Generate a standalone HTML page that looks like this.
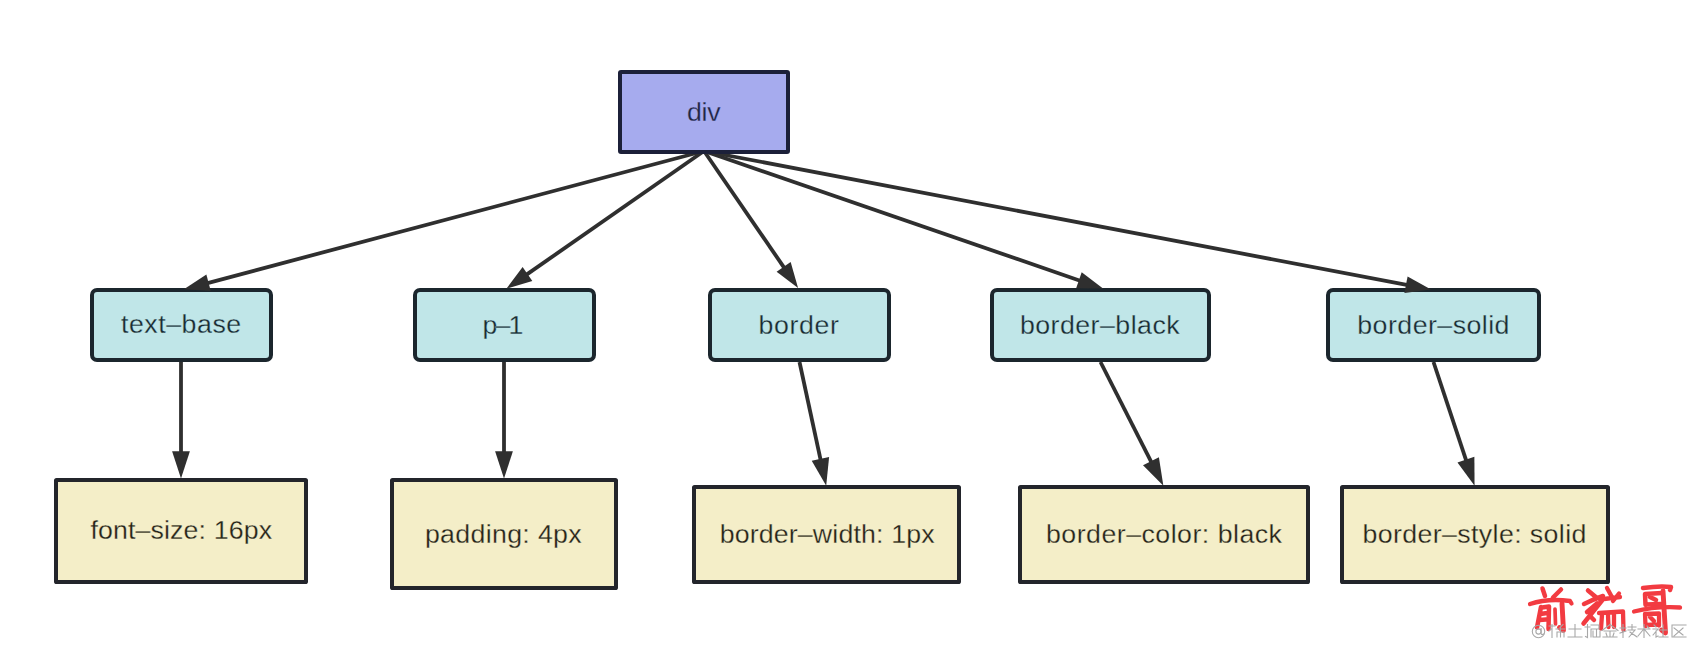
<!DOCTYPE html>
<html><head><meta charset="utf-8"><style>
html,body{margin:0;padding:0;background:#fff;width:1696px;height:648px;overflow:hidden}
svg{display:block}
text{font-family:"Liberation Sans",sans-serif}
</style></head><body>
<svg width="1696" height="648" viewBox="0 0 1696 648">
<rect width="1696" height="648" fill="#fff"/>
<g stroke="#2f2f2f" stroke-width="3.8">
<line x1="704" y1="151" x2="206.63" y2="283.32"/>
<line x1="704" y1="151" x2="525.83" y2="275.14"/>
<line x1="704" y1="151" x2="784.77" y2="268.57"/>
<line x1="704" y1="151" x2="1080.82" y2="280.93"/>
<line x1="704" y1="151" x2="1407.96" y2="285.13"/>
<line x1="181" y1="362" x2="181.00" y2="453.20"/>
<line x1="504" y1="362" x2="504.00" y2="453.20"/>
<line x1="799.5" y1="362" x2="820.84" y2="460.80"/>
<line x1="1100.5" y1="362" x2="1151.87" y2="463.10"/>
<line x1="1433.5" y1="362" x2="1466.56" y2="461.56"/>
</g>
<g>
<rect x="620.0" y="72.0" width="168" height="80" rx="1" fill="#a6abee" stroke="#1c2039" stroke-width="4"/>
<rect x="92.0" y="290.0" width="179" height="70" rx="5" fill="#c0e6e8" stroke="#1b262d" stroke-width="4"/>
<rect x="415.0" y="290.0" width="179" height="70" rx="5" fill="#c0e6e8" stroke="#1b262d" stroke-width="4"/>
<rect x="710.0" y="290.0" width="179" height="70" rx="5" fill="#c0e6e8" stroke="#1b262d" stroke-width="4"/>
<rect x="992.0" y="290.0" width="217" height="70" rx="5" fill="#c0e6e8" stroke="#1b262d" stroke-width="4"/>
<rect x="1328.0" y="290.0" width="211" height="70" rx="5" fill="#c0e6e8" stroke="#1b262d" stroke-width="4"/>
<rect x="56.0" y="480.0" width="250" height="102" rx="0.6" fill="#f4eec8" stroke="#23252b" stroke-width="4"/>
<rect x="392.0" y="480.0" width="224" height="108" rx="0.6" fill="#f4eec8" stroke="#23252b" stroke-width="4"/>
<rect x="694.0" y="487.0" width="265" height="95" rx="0.6" fill="#f4eec8" stroke="#23252b" stroke-width="4"/>
<rect x="1020.0" y="487.0" width="288" height="95" rx="0.6" fill="#f4eec8" stroke="#23252b" stroke-width="4"/>
<rect x="1342.0" y="487.0" width="266" height="95" rx="0.6" fill="#f4eec8" stroke="#23252b" stroke-width="4"/>
</g>
<g fill="#2f2f2f">
<polygon points="183.92,289.36 206.38,274.59 210.75,291.02"/>
<polygon points="506.55,288.57 522.61,267.02 532.33,280.97"/>
<polygon points="798.08,287.94 776.63,271.74 790.65,262.11"/>
<polygon points="1103.04,288.59 1076.16,288.31 1081.70,272.24"/>
<polygon points="1431.04,289.53 1404.40,293.11 1407.58,276.41"/>
<polygon points="181.0,478.6 172.10,451.20 189.90,451.20"/>
<polygon points="504.0,478.6 495.10,451.20 512.90,451.20"/>
<polygon points="826.2,485.63 811.72,460.73 829.11,456.97"/>
<polygon points="1163.37,485.75 1143.03,465.35 1158.90,457.29"/>
<polygon points="1474.56,485.67 1457.48,462.47 1474.37,456.86"/>
</g>
<g>
<text transform="scale(1.07,1)" x="642.06" y="121.0" fill="#20253f" stroke="#a6abee" stroke-width="0.25" font-size="25" textLength="31.31" lengthAdjust="spacing">div</text>
<text transform="scale(1.07,1)" x="113.08" y="333.5" fill="#1a2a31" stroke="#c0e6e8" stroke-width="0.25" font-size="25" textLength="112.34" lengthAdjust="spacing">text–base</text>
<text transform="scale(1.07,1)" x="451.03" y="333.7" fill="#1a2a31" stroke="#c0e6e8" stroke-width="0.25" font-size="25" textLength="38.13" lengthAdjust="spacing">p–1</text>
<text transform="scale(1.07,1)" x="708.97" y="334" fill="#1a2a31" stroke="#c0e6e8" stroke-width="0.25" font-size="25" textLength="75.14" lengthAdjust="spacing">border</text>
<text transform="scale(1.07,1)" x="953.18" y="333.7" fill="#1a2a31" stroke="#c0e6e8" stroke-width="0.25" font-size="25" textLength="149.25" lengthAdjust="spacing">border–black</text>
<text transform="scale(1.07,1)" x="1268.50" y="333.7" fill="#1a2a31" stroke="#c0e6e8" stroke-width="0.25" font-size="25" textLength="142.24" lengthAdjust="spacing">border–solid</text>
<text transform="scale(1.07,1)" x="84.49" y="539.5" fill="#25231b" stroke="#f4eec8" stroke-width="0.25" font-size="25" textLength="169.72" lengthAdjust="spacing">font–size: 16px</text>
<text transform="scale(1.07,1)" x="397.10" y="542.6" fill="#25231b" stroke="#f4eec8" stroke-width="0.25" font-size="25" textLength="146.54" lengthAdjust="spacing">padding: 4px</text>
<text transform="scale(1.07,1)" x="672.62" y="542.7" fill="#25231b" stroke="#f4eec8" stroke-width="0.25" font-size="25" textLength="200.84" lengthAdjust="spacing">border–width: 1px</text>
<text transform="scale(1.07,1)" x="977.57" y="543.4" fill="#25231b" stroke="#f4eec8" stroke-width="0.25" font-size="25" textLength="220.56" lengthAdjust="spacing">border–color: black</text>
<text transform="scale(1.07,1)" x="1273.27" y="542.6" fill="#25231b" stroke="#f4eec8" stroke-width="0.25" font-size="25" textLength="209.35" lengthAdjust="spacing">border–style: solid</text>
</g>
<g id="wm">
<g fill="none" stroke="#f23b41" stroke-linecap="round" stroke-linejoin="round">
<path stroke-width="4.5" d="M1542.5,588.5 L1545,596 M1561,589.5 L1553,597.5"/>
<path stroke-width="4.3" d="M1530,604 Q1548,598 1570,601 L1571.5,603.5"/>
<path stroke-width="4.5" d="M1541,607 L1537,627.5 M1542,607.5 L1549,606.5 L1548.5,629 M1540.5,614 L1547,613 M1539.5,620 L1546,619.5"/>
<path stroke-width="3.7" d="M1555,609 L1555.5,624"/>
<path stroke-width="4.9" d="M1562,603.5 L1563.5,630.5 L1559.5,627.5"/>
<path stroke-width="4.5" d="M1588,590.5 L1597,598 M1584,604 Q1594,599 1603,596 M1587,612 L1597,603.5 M1583.5,623.5 Q1592,613 1602,600.5 M1590,616 L1594,620"/>
<path stroke-width="4.3" d="M1607,588 L1613,599 M1619,593.5 L1613,601 M1600,599.5 L1620,597"/>
<path stroke-width="4.3" d="M1599,613 L1623,611.5 L1623.5,630 M1602,615 L1601,628.5 M1608,615 L1608.5,627 M1614,614 L1614,627"/>
<path stroke-width="4.5" d="M1643,588 Q1660,585.5 1671,587 L1670,590 M1645,594 L1645.5,605 M1645,594 L1662,593 M1646,604.5 L1661,604 M1650,597 L1656,600"/>
<path stroke-width="4.9" d="M1663,591 L1665.5,633 L1661.5,630"/>
<path stroke-width="4.3" d="M1634,611.5 Q1656,606 1680,607.5"/>
<path stroke-width="4.3" d="M1645,614 L1645.5,626 M1645,614 L1659,613.5 L1659,625.5 M1646,625 L1658,624.5 M1650,617 L1654,621"/>
</g>
<g fill="none" stroke="#a8a8a8" stroke-width="1.1" stroke-linecap="square">
<circle cx="1538.5" cy="631.5" r="6.2"/><circle cx="1538.5" cy="631.5" r="2.6"/><path d="M1541.1,628.5 v5 q0.5,1.8 2.6,0.5"/>
<path d="M1549,626 h6 M1552,624.5 v13 M1549,631 l2,-2 M1556,629 h9 M1557,632 v5 M1557,632 h7 v5 M1560.5,627 v10 M1563,624.5 l-3,3"/>
<path d="M1569,629 h12 M1575,624.5 v12 M1568,637 h14"/>
<path d="M1585,627 h5 M1587.5,624.5 v13 l-2,-1 M1591,625 h8 v4 h-8 v8 M1593,631 v6 h7 v-6 M1596.5,630 v7"/>
<path d="M1610,624.5 l-8,6 M1610,624.5 l8,6 M1604,631 h12 M1610,631 v6 M1603,637 h14 M1606,633 l1,3 M1614,633 l-1,3"/>
<path d="M1620,628 h6 M1623,624.5 v13 M1620,633 l6,-2 M1628,627 h8 M1632,624.5 v5 M1628,630 h7 l-6,7 M1630,632 l7,5"/>
<path d="M1638,629 h12 M1644,624.5 v13 M1643,630 l-5,6 M1645,630 l5,6 M1647,626 l2,2"/>
<path d="M1654,625 l2,2 M1653,629 h5 l-5,6 M1656,631 v6 l2,-1 M1659,630 h8 M1663,625 v11 M1659,637 h9"/>
<path d="M1686,625 h-14 v12 h14 M1674,628 l9,7 M1683,628 l-9,8"/>
</g>
</g>
</svg>
</body></html>
